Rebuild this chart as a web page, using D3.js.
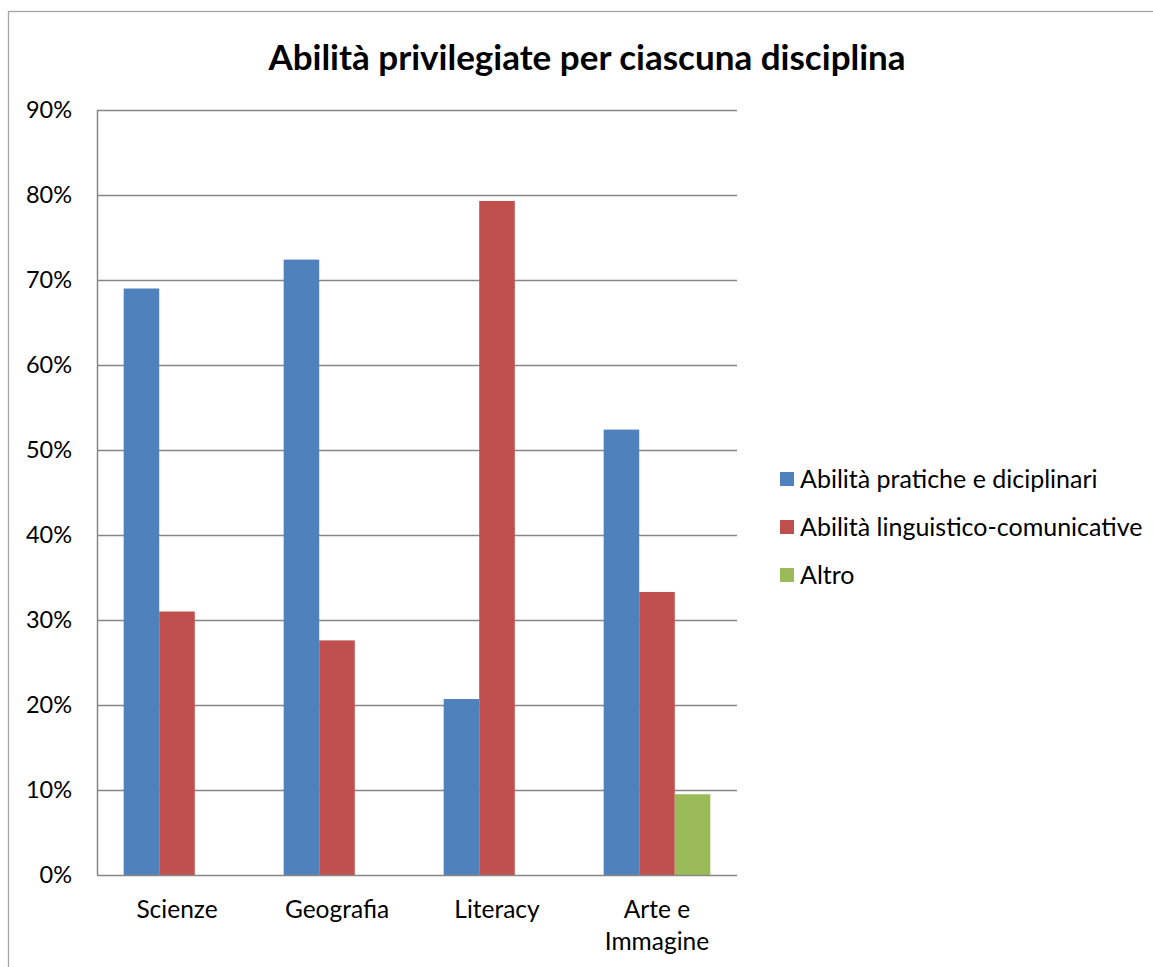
<!DOCTYPE html>
<html>
<head>
<meta charset="utf-8">
<script src="https://cdn.jsdelivr.net/npm/d3@7"></script>
<style>
  html, body { margin: 0; padding: 0; background: #fff; }
  svg { display: block; }
  text { font-family: Lato, "Open Sans", sans-serif; fill: #000; }
</style>
</head>
<body>
<svg id="chart" width="1153" height="967"></svg>
<script>
const title = "Abilità privilegiate per ciascuna disciplina";
const categories = ["Scienze", "Geografia", "Literacy", "Arte e Immagine"];
const categoryLines = [["Scienze"], ["Geografia"], ["Literacy"], ["Arte e", "Immagine"]];
const seriesNames = ["Abilità pratiche e diciplinari", "Abilità linguistico-comunicative", "Altro"];
const pratiche = [0.690, 0.724, 0.207, 0.524];
const linguistiche = [0.310, 0.276, 0.793, 0.333];
const altro = [0, 0, 0, 0.095];
const seriesColors = ["#4F81BD", "#C0504D", "#9BBB59"];
const yTicks = [0, 0.1, 0.2, 0.3, 0.4, 0.5, 0.6, 0.7, 0.8, 0.9];

const seriesValues = [pratiche, linguistiche, altro];
const svg = d3.select("#chart");

// outer chart border
svg.append("rect").attr("x", 8.5).attr("y", 11.5).attr("width", 1160).attr("height", 1000)
  .attr("fill", "none").attr("stroke", "#a6a6a6").attr("stroke-width", 1.3);

const plot = {left: 97, right: 737, top: 110, bottom: 875};

const y = d3.scaleLinear().domain([0, 0.9]).range([plot.bottom, plot.top]);
const x0 = d3.scaleBand().domain(categories).range([plot.left, plot.right]).paddingInner(0).paddingOuter(0);
// gap width 150% => 3 bars + 1.5 bar widths per category
const barW = x0.bandwidth() / 4.5;
const x1 = d3.scaleBand().domain(d3.range(seriesNames.length))
  .range([0, barW * 3]);

// gridlines
svg.append("g").selectAll("line").data(yTicks.slice(1)).join("line")
  .attr("x1", plot.left).attr("x2", plot.right)
  .attr("y1", d => Math.round(y(d)) + 0.5).attr("y2", d => Math.round(y(d)) + 0.5)
  .attr("stroke", "#868686").attr("stroke-width", 1.5);

// bars
const groups = svg.append("g").selectAll("g").data(categories).join("g")
  .attr("transform", c => `translate(${x0(c) + barW * 0.75},0)`);
groups.selectAll("rect").data((c, i) => seriesValues.map((s, k) => ({k, v: s[i]}))).join("rect")
  .attr("x", d => x1(d.k))
  .attr("width", x1.bandwidth())
  .attr("y", d => y(d.v))
  .attr("height", d => y(0) - y(d.v))
  .attr("fill", d => seriesColors[d.k]);

// axes lines
svg.append("line").attr("x1", plot.left + 0.5).attr("x2", plot.left + 0.5)
  .attr("y1", plot.top).attr("y2", plot.bottom)
  .attr("stroke", "#868686").attr("stroke-width", 1.5);
svg.append("line").attr("x1", plot.left).attr("x2", plot.right)
  .attr("y1", plot.bottom + 0.5).attr("y2", plot.bottom + 0.5)
  .attr("stroke", "#868686").attr("stroke-width", 1.5);

// y tick labels
svg.append("g").selectAll("text").data(yTicks).join("text")
  .attr("x", 72).attr("y", d => y(d)).attr("dy", "0.36em")
  .attr("text-anchor", "end").attr("font-size", 23.5)
  .text(d => d3.format(".0%")(d));

// x labels
const xl = svg.append("g").selectAll("text").data(categories).join("text")
  .attr("x", c => x0(c) + x0.bandwidth() / 2)
  .attr("y", 918).attr("text-anchor", "middle").attr("font-size", 24.5);
xl.each(function(c, i) {
  d3.select(this).selectAll("tspan").data(categoryLines[i]).join("tspan")
    .attr("x", x0(c) + x0.bandwidth() / 2)
    .attr("dy", (d, j) => j === 0 ? 0 : 32)
    .text(d => d);
});

// title
svg.append("text").attr("x", 587).attr("y", 70).attr("text-anchor", "middle")
  .attr("font-size", 35).attr("font-weight", "bold").text(title);

// legend
const leg = svg.append("g").selectAll("g").data(seriesNames).join("g")
  .attr("transform", (d, i) => `translate(780,${479 + i * 48})`);
leg.append("rect").attr("x", 0).attr("y", -7).attr("width", 14).attr("height", 14)
  .attr("fill", (d, i) => seriesColors[i]);
leg.append("text").attr("x", 20).attr("y", 0).attr("dy", "0.36em")
  .attr("font-size", 25).text(d => d);
</script>
</body>
</html>
